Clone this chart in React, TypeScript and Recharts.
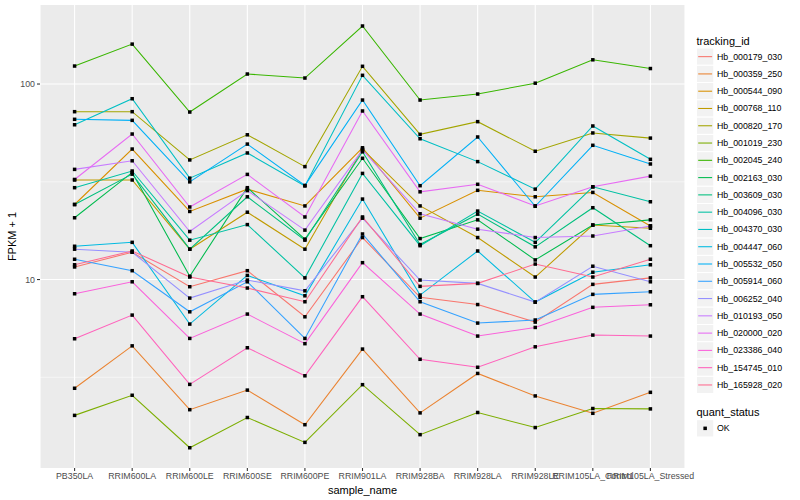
import { CartesianGrid, Line, LineChart, XAxis, YAxis } from 'recharts';

const samples = [
  'PB350LA',
  'RRIM600LA',
  'RRIM600LE',
  'RRIM600SE',
  'RRIM600PE',
  'RRIM901LA',
  'RRIM928BA',
  'RRIM928LA',
  'RRIM928LE',
  'RRIM105LA_Control',
  'RRIM105LA_Stressed',
];

// FPKM + 1, one value per sample
const Hb_000179_030 = [11.6, 13.8, 9.19, 11.1, 6.45, 16.4, 8.11, 7.45, 6.06, 9.45, 10.2];
const Hb_000359_250 = [2.78, 4.58, 2.16, 2.72, 1.81, 4.41, 2.08, 3.31, 2.54, 2.07, 2.65];
const Hb_000544_090 = [24.2, 46.5, 22.3, 29.0, 23.8, 47.2, 20.6, 28.6, 26.5, 27.9, 18.8];
const Hb_000768_110 = [32.3, 32.3, 14.3, 22.1, 14.3, 46.5, 23.8, 16.4, 10.3, 19.0, 18.3];
const Hb_000820_170 = [72.2, 72.2, 40.9, 55.0, 37.8, 123.2, 55.3, 64.2, 45.3, 56.2, 52.9];
const Hb_001019_230 = [2.02, 2.56, 1.38, 1.97, 1.47, 2.9, 1.61, 2.09, 1.75, 2.19, 2.18];
const Hb_002045_240 = [123.6, 160, 71.9, 112.5, 107.3, 198, 82.8, 88.9, 101, 133, 120];
const Hb_002163_030 = [20.7, 35.3, 10.4, 29.5, 16.1, 41.7, 16.2, 20.2, 12.6, 19.0, 20.2];
const Hb_003609_030 = [24.2, 34.6, 14.3, 26.5, 15.9, 45.0, 15.1, 21.6, 14.7, 23.3, 14.9];
const Hb_004096_030 = [29.5, 35.9, 15.9, 19.1, 10.2, 34.9, 14.9, 22.4, 15.5, 29.8, 25.0];
const Hb_004370_030 = [61.9, 84.1, 33.0, 44.4, 30.1, 110.8, 52.5, 40.1, 29.0, 61.0, 41.2];
const Hb_004447_060 = [14.8, 15.5, 5.92, 10.5, 8.26, 25.8, 8.33, 14.0, 7.67, 10.9, 11.9];
const Hb_005532_050 = [66.0, 65.2, 31.6, 49.3, 30.3, 82.8, 30.2, 53.6, 23.7, 48.6, 39.0];
const Hb_005914_060 = [12.7, 11.1, 6.84, 9.74, 5.0, 17.1, 7.7, 5.99, 6.21, 8.4, 8.66];
const Hb_006252_040 = [14.3, 13.8, 8.04, 9.94, 8.76, 20.6, 9.94, 9.56, 7.67, 11.7, 9.74];
const Hb_010193_050 = [36.6, 40.5, 17.6, 28.5, 17.9, 46.0, 21.7, 18.1, 16.4, 16.7, 18.8];
const Hb_020000_020 = [32.5, 55.5, 23.5, 34.5, 20.9, 72.8, 28.1, 30.7, 23.8, 29.8, 33.8];
const Hb_023386_040 = [8.46, 9.74, 5.0, 6.66, 4.7, 12.2, 6.66, 5.14, 5.69, 7.21, 7.43];
const Hb_154745_010 = [4.98, 6.58, 2.91, 4.48, 3.22, 8.17, 3.91, 3.56, 4.53, 5.2, 5.14];
const Hb_165928_020 = [11.9, 14.0, 10.3, 9.05, 7.7, 20.9, 9.23, 9.56, 12.0, 10.3, 12.7];

const trackingIds = [
  'Hb_000179_030',
  'Hb_000359_250',
  'Hb_000544_090',
  'Hb_000768_110',
  'Hb_000820_170',
  'Hb_001019_230',
  'Hb_002045_240',
  'Hb_002163_030',
  'Hb_003609_030',
  'Hb_004096_030',
  'Hb_004370_030',
  'Hb_004447_060',
  'Hb_005532_050',
  'Hb_005914_060',
  'Hb_006252_040',
  'Hb_010193_050',
  'Hb_020000_020',
  'Hb_023386_040',
  'Hb_154745_010',
  'Hb_165928_020',
];

const seriesValues = [
  Hb_000179_030,
  Hb_000359_250,
  Hb_000544_090,
  Hb_000768_110,
  Hb_000820_170,
  Hb_001019_230,
  Hb_002045_240,
  Hb_002163_030,
  Hb_003609_030,
  Hb_004096_030,
  Hb_004370_030,
  Hb_004447_060,
  Hb_005532_050,
  Hb_005914_060,
  Hb_006252_040,
  Hb_010193_050,
  Hb_020000_020,
  Hb_023386_040,
  Hb_154745_010,
  Hb_165928_020,
];

const colors = [
  '#F8766D', '#EA8331', '#D89000', '#C09B00', '#A3A500',
  '#7CAE00', '#39B600', '#00BB4E', '#00BF7D', '#00C1A3',
  '#00BFC4', '#00BAE0', '#00B0F6', '#35A2FF', '#9590FF',
  '#C77CFF', '#E76BF3', '#FA62DB', '#FF62BC', '#FF6C91',
];

const yTicks = [10, 100];
const yMinor = [3.162, 31.62];
const quantStatus = ['OK'];

const rows = samples.map((sample, i) => {
  const row: Record<string, string | number> = { sample };
  trackingIds.forEach((id, j) => {
    row[id] = seriesValues[j][i];
  });
  return row;
});

const FONT = '"Liberation Sans", Arial, Helvetica, sans-serif';

const square = (props: any) => {
  const { cx, cy, index, dataKey } = props;
  if (cx == null || cy == null) return <g key={`e-${dataKey}-${index}`} />;
  return (
    <rect
      key={`pt-${dataKey}-${index}`}
      x={cx - 1.75}
      y={cy - 1.75}
      width={3.5}
      height={3.5}
      fill="#000"
    />
  );
};

const KEY = 17.28;

const LegendPanel = () => (
  <svg
    width={104}
    height={500}
    style={{ position: 'absolute', left: 696, top: 0, fontFamily: FONT }}
  >
    <text x={0.5} y={40.5} fontSize={11} dominantBaseline="central" fill="#000">
      tracking_id
    </text>
    {trackingIds.map((id, i) => {
      const top = 48 + i * KEY;
      const mid = top + KEY / 2;
      return (
        <g key={id}>
          <rect x={0.5} y={top} width={KEY} height={KEY} fill="#F2F2F2" stroke="#fff" strokeWidth={1} />
          <line x1={2.2} x2={16.1} y1={mid} y2={mid} stroke={colors[i]} strokeWidth={1.07} />
          <text x={21} y={mid} fontSize={8.8} dominantBaseline="central" fill="#000">
            {id}
          </text>
        </g>
      );
    })}
    <text x={0.5} y={411.5} fontSize={11} dominantBaseline="central" fill="#000">
      quant_status
    </text>
    {quantStatus.map((s, i) => {
      const top = 419.7 + i * KEY;
      const mid = top + KEY / 2;
      return (
        <g key={s}>
          <rect x={0.5} y={top} width={KEY} height={KEY} fill="#F2F2F2" stroke="#fff" strokeWidth={1} />
          <rect x={9.14 - 1.75} y={mid - 1.75} width={3.5} height={3.5} fill="#000" />
          <text x={21} y={mid} fontSize={8.8} dominantBaseline="central" fill="#000">
            {s}
          </text>
        </g>
      );
    })}
  </svg>
);

export default function App() {
  return (
    <div
      style={{
        position: 'fixed',
        left: 0,
        top: 0,
        width: 800,
        height: 500,
        background: '#fff',
        fontFamily: FONT,
      }}
    >
      <LineChart
        width={800}
        height={500}
        data={rows}
        margin={{ top: 5, right: 115, bottom: 0, left: 0 }}
        style={{ fontFamily: FONT }}
      >
        <CartesianGrid fill="#EBEBEB" stroke="#fff" strokeWidth={1.07} horizontalValues={yTicks} />
        <CartesianGrid fill="none" stroke="#fff" strokeWidth={0.53} vertical={false} horizontalValues={yMinor} />
        <XAxis
          dataKey="sample"
          interval={0}
          height={32}
          padding={{ left: 34.6, right: 34.6 }}
          axisLine={false}
          tickSize={3}
          tickMargin={2}
          tickLine={{ stroke: '#333333', strokeWidth: 1.07 }}
          tick={{ fill: '#4D4D4D', fontSize: 8.8 }}
          label={{ value: 'sample_name', position: 'insideBottom', offset: 6, fill: '#000', fontSize: 11 }}
        />
        <YAxis
          type="number"
          scale="log"
          domain={[1.087, 253.6]}
          allowDataOverflow
          ticks={yTicks}
          width={40}
          axisLine={false}
          tickSize={3}
          tickMargin={2}
          tickLine={{ stroke: '#333333', strokeWidth: 1.07 }}
          tick={{ fill: '#4D4D4D', fontSize: 8.8 }}
          label={{
            value: 'FPKM + 1',
            angle: -90,
            position: 'insideLeft',
            offset: 12,
            fill: '#000',
            fontSize: 11,
            style: { textAnchor: 'middle' },
          }}
        />
        {trackingIds.map((id, i) => (
          <Line
            key={id}
            type="linear"
            dataKey={id}
            stroke={colors[i]}
            strokeWidth={1.07}
            dot={false}
            activeDot={false}
            isAnimationActive={false}
          />
        ))}
        {trackingIds.map((id) => (
          <Line
            key={`${id}-pts`}
            type="linear"
            dataKey={id}
            stroke="none"
            dot={square}
            activeDot={false}
            legendType="none"
            isAnimationActive={false}
          />
        ))}
      </LineChart>
      <LegendPanel />
    </div>
  );
}
